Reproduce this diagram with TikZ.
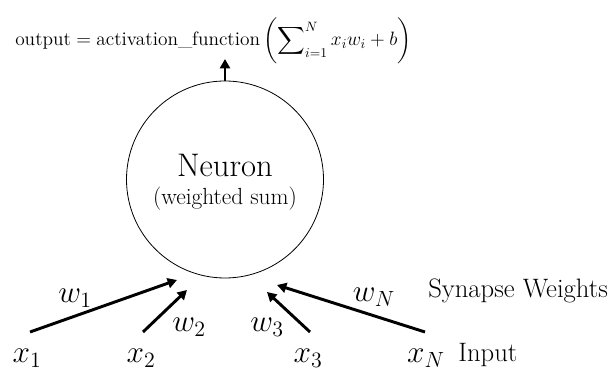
\RequirePackage{fix-cm}
\documentclass[tikz,border=0pt]{standalone}
\usepackage{amsmath}
\usetikzlibrary{arrows.meta,positioning}

\begin{document}
\begin{tikzpicture}[x=0.75pt, y=-0.75pt,
    neuron/.style={draw, circle, line width=0.6pt, minimum size=147.75pt, inner sep=0pt},
    arrow/.style={-{Triangle[length=7pt, width=7.5pt]}, line width=2.2pt},
    var/.style={inner sep=0pt, font=\fontsize{23.5}{27}\selectfont},
    caption/.style={inner sep=0pt, font=\fontsize{20}{24}\selectfont}
  ]
  \useasboundingbox (0,0) rectangle (615,373);

  % neuron and its output
  \node[neuron] (neuron) at (225,179.5) {};
  \node[anchor=base, inner sep=0pt, font=\fontsize{24.5}{28}\selectfont] (name) at (225,177) {Neuron};
  \node[anchor=base, inner sep=0pt, font=\fontsize{17.5}{21}\selectfont] (role) at (225,205) {(weighted sum)};

  \node[anchor=base west, inner sep=0pt, font=\fontsize{14.5}{18}\selectfont] (output) at (15,46)
    {$\text{output} = \text{activation\_function}\left(\displaystyle\sum\nolimits_{i=1}^{N} x_i w_i + b\right)$};
  \coordinate (up) at (225,59);
  \draw[arrow] (neuron.north) -- (up);

  % inputs
  \node[var, anchor=base] (x1) at (27,363) {$x_1$};
  \node[var, anchor=base] (x2) at (141,363) {$x_2$};
  \node[var, anchor=base] (x3) at (308,363) {$x_3$};
  \node[var, anchor=base] (xN) at (426,363) {$x_N$};
  \node[caption, anchor=base west] (input) at (458,362) {Input};

  % synapses
  \coordinate (s1) at (30,332);  \coordinate (t1) at (177,280);
  \coordinate (s2) at (143,332); \coordinate (t2) at (187,290);
  \coordinate (s3) at (310,332); \coordinate (t3) at (267,292);
  \coordinate (sN) at (425,332); \coordinate (tN) at (277,285);
  \draw[arrow] (s1) -- (t1);
  \draw[arrow] (s2) -- (t2);
  \draw[arrow] (s3) -- (t3);
  \draw[arrow] (sN) -- (tN);

  \node[var] (w1) at (75,298) {$w_1$};
  \node[var] (w2) at (189,327) {$w_2$};
  \node[var] (w3) at (267,327) {$w_3$};
  \node[var] (wN) at (374,297) {$w_N$};
  \node[caption, anchor=base west] (weights) at (428,298) {Synapse Weights};

\end{tikzpicture}
\end{document}
